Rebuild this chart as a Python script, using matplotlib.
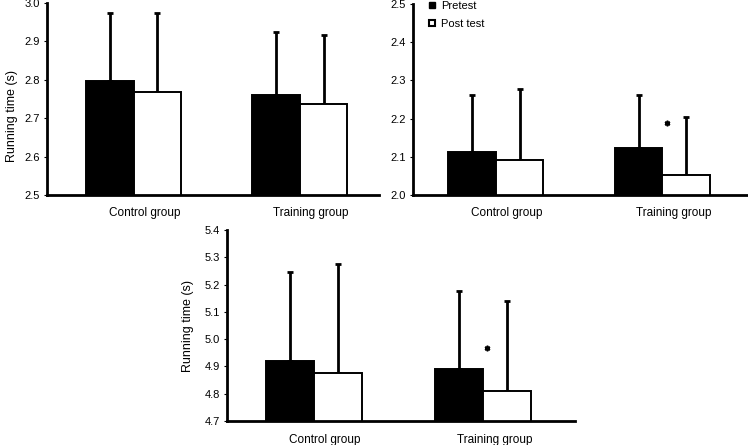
import matplotlib
matplotlib.use("Agg")
import matplotlib.pyplot as plt
import numpy as np
from matplotlib.lines import Line2D

plt.rcParams['font.family'] = ['Liberation Sans', 'DejaVu Sans']

groups = ["Control group", "Training group"]
series = ["Pretest", "Post test"]

# panel A (top-left)
a_pre = [2.796, 2.761]
a_post = [2.768, 2.738]
a_pre_sd = [0.179, 0.163]
a_post_sd = [0.207, 0.178]
a_ticks = [2.5, 2.6, 2.7, 2.8, 2.9, 3.0]

# panel B (top-right)
b_pre = [2.113, 2.123]
b_post = [2.092, 2.053]
b_pre_sd = [0.148, 0.138]
b_post_sd = [0.186, 0.152]
b_ticks = [2.0, 2.1, 2.2, 2.3, 2.4, 2.5]
b_star = 2.188

# panel C (bottom)
c_pre = [4.921, 4.891]
c_post = [4.877, 4.810]
c_pre_sd = [0.326, 0.284]
c_post_sd = [0.397, 0.330]
c_ticks = [4.7, 4.8, 4.9, 5.0, 5.1, 5.2, 5.3, 5.4]
c_star = 4.966

fig = plt.figure(figsize=(7.48, 4.45), dpi=100)

ax1 = fig.add_axes([0.0628, 0.5618, 0.4439, 0.4315])
ax2 = fig.add_axes([0.5517, 0.5618, 0.4483, 0.4292])
ax3 = fig.add_axes([0.3035, 0.0539, 0.4652, 0.4292])

gap = 3.5
w = 1.0


def panel(ax, pre, post, pre_sd, post_sd, ticks, xlim, ylabel=True, star=None,
          star_dx=0.1, label_x=-0.09, label_y=0.5):
    x = np.arange(len(groups)) * gap
    ax.bar(x - w / 2, pre, w, color='black', edgecolor='black', linewidth=1.4, zorder=2, label=series[0])
    ax.bar(x + w / 2, post, w, color='white', edgecolor='black', linewidth=1.4, zorder=2, label=series[1])
    ax.errorbar(x - w / 2, pre, yerr=[np.zeros(len(pre)), pre_sd], fmt='none', ecolor='black',
                elinewidth=2, capsize=2, capthick=2, zorder=1)
    ax.errorbar(x + w / 2, post, yerr=[np.zeros(len(post)), post_sd], fmt='none', ecolor='black',
                elinewidth=2, capsize=2, capthick=2, zorder=1)
    ax.set_ylim(ticks[0], ticks[-1])
    ax.set_xlim(*xlim)
    ax.set_yticks(ticks)
    ax.set_yticklabels([f"{t:.1f}" for t in ticks], fontsize=8)
    ax.set_xticks(x + 0.23)
    ax.set_xticklabels(groups, fontsize=8.5)
    ax.tick_params(axis='x', length=0, pad=9)
    ax.tick_params(axis='y', length=2, width=0.8, pad=3, direction='out')
    for s in ['top', 'right']:
        ax.spines[s].set_visible(False)
    for s in ['left', 'bottom']:
        ax.spines[s].set_linewidth(2)
    if ylabel:
        ax.set_ylabel("Running time (s)", fontsize=9)
        ax.yaxis.set_label_coords(label_x, label_y)
    if star is not None:
        ax.plot([x[1] + star_dx], [star], marker=(6, 2, 0), markersize=4,
                color='black', markeredgewidth=1.2, zorder=3)


panel(ax1, a_pre, a_post, a_pre_sd, a_post_sd, a_ticks, (-1.83, 5.17), label_x=-0.088, label_y=0.41)
panel(ax2, b_pre, b_post, b_pre_sd, b_post_sd, b_ticks, (-1.75, 5.30), ylabel=False, star=b_star, star_dx=0.1)
panel(ax3, c_pre, c_post, c_pre_sd, c_post_sd, c_ticks, (-1.80, 5.40), star=c_star, star_dx=0.07,
      label_x=-0.095, label_y=0.5)

handles = [Line2D([], [], marker='s', linestyle='none', markersize=4.5, markerfacecolor='black', markeredgecolor='black'),
           Line2D([], [], marker='s', linestyle='none', markersize=4.5, markerfacecolor='white', markeredgecolor='black', markeredgewidth=1.5)]
ax2.legend(handles, series, loc='upper left', bbox_to_anchor=(0.035, 1.04), frameon=False,
           fontsize=8, handlelength=0.6, handletextpad=0.5, labelspacing=0.7, borderaxespad=0)

fig.savefig("out.png", dpi=100)
